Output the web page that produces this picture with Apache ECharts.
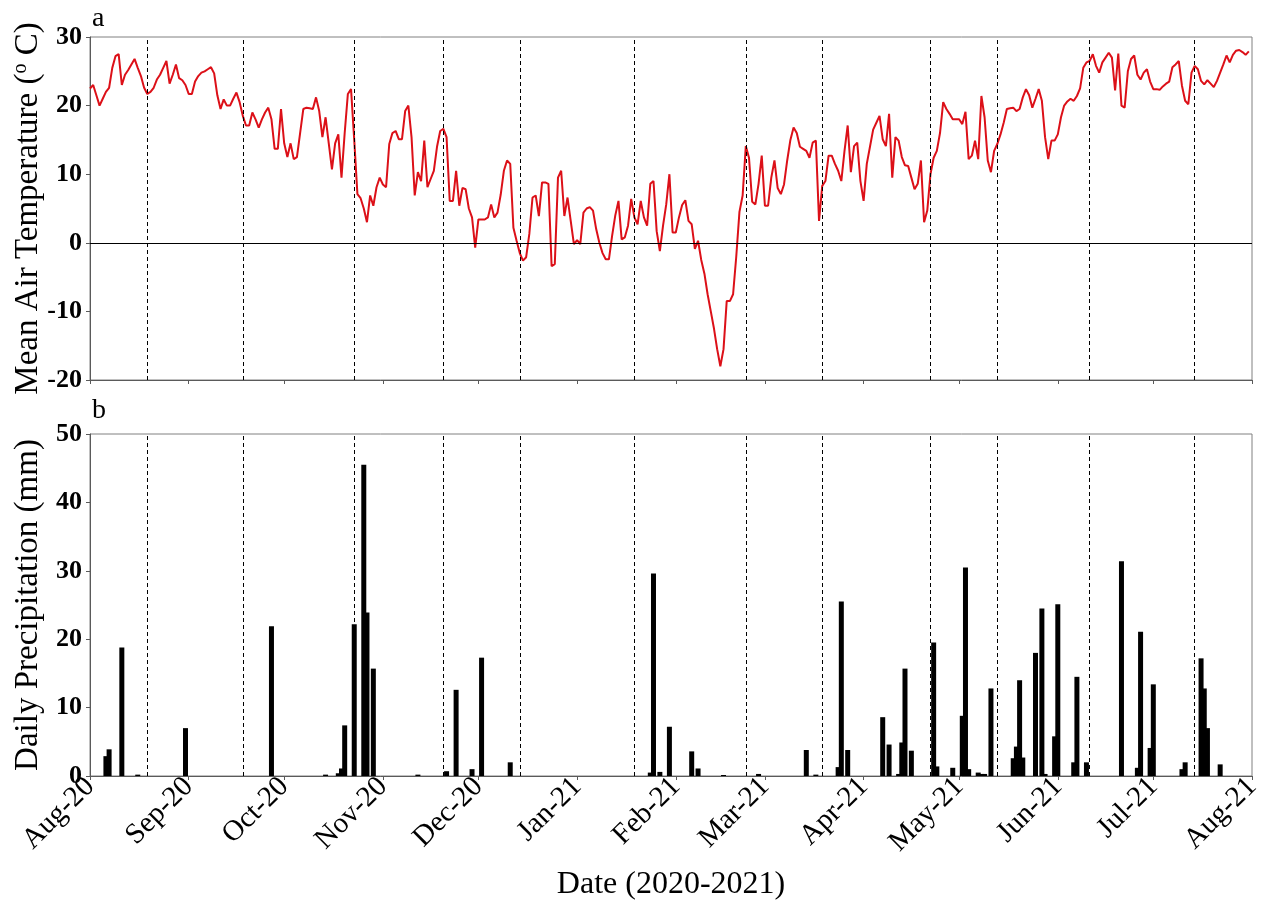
<!DOCTYPE html>
<html><head><meta charset="utf-8">
<script src="https://cdn.jsdelivr.net/npm/echarts@6/dist/echarts.min.js"></script>
<style>html,body{margin:0;padding:0;background:#fff}#c{width:1263px;height:903px}</style>
</head><body><div id="c"></div>
<script>
// ---- data ----
const firstDay = '2020-08-01';
const lastDay = '2021-08-01';
const monthNames = ['Jan','Feb','Mar','Apr','May','Jun','Jul','Aug','Sep','Oct','Nov','Dec'];

// daily mean air temperature (deg C), 1 Aug 2020 .. 31 Jul 2021
const temperature = [
22.5,23.0,21.5,20.0,21.0,22.0,22.6,25.5,27.2,27.5,
23.0,24.5,25.2,26.0,26.8,25.5,24.3,22.6,21.7,22.0,
22.6,23.8,24.5,25.5,26.5,23.2,24.5,26.0,24.0,23.7,
23.0,21.7,21.7,23.5,24.3,24.8,25.0,25.3,25.6,24.7,
21.5,19.5,20.9,20.0,20.0,21.0,21.9,20.5,18.5,17.1,
17.1,19.0,18.0,16.8,18.0,19.0,19.7,18.0,13.7,13.7,
19.5,14.5,12.5,14.5,12.2,12.5,16.0,19.5,19.7,19.6,
19.5,21.2,19.2,15.4,18.3,14.5,10.7,14.5,15.8,9.5,
16.0,21.7,22.4,15.0,7.1,6.5,5.0,3.0,6.9,5.4,
8.1,9.5,8.5,8.1,14.4,16.0,16.3,15.1,15.1,19.2,
20.0,15.4,6.9,10.3,9.0,14.9,8.1,9.3,10.5,14.0,
16.3,16.6,15.4,6.1,6.1,10.5,5.4,8.0,7.8,5.0,
3.7,-0.7,3.4,3.4,3.4,3.7,5.6,3.7,4.4,7.0,
10.5,12.0,11.5,2.2,0.3,-1.5,-2.6,-2.1,1.3,6.6,
6.9,3.9,8.8,8.8,8.6,-3.4,-3.1,9.5,10.5,3.9,
6.6,3.2,-0.2,0.4,-0.2,4.4,5.0,5.2,4.7,2.0,
0.0,-1.5,-2.4,-2.4,1.0,4.0,6.1,0.5,0.8,2.5,
6.4,3.7,2.7,6.1,3.7,2.5,8.6,9.0,1.7,-1.2,
2.5,5.6,10.0,1.5,1.5,3.7,5.5,6.2,3.2,2.7,
-0.9,0.3,-2.5,-4.5,-7.5,-10.0,-12.5,-15.5,-18.0,-15.5,
-8.5,-8.5,-7.5,-2.0,4.5,6.9,14.1,12.4,6.0,5.6,
8.6,12.7,5.4,5.4,9.5,12.0,8.0,7.1,8.5,12.0,
15.0,16.8,16.0,14.0,13.7,13.4,12.4,14.6,14.9,3.2,
8.3,9.0,12.7,12.7,11.5,10.5,9.0,13.4,17.1,10.3,
14.1,14.6,9.0,6.1,11.5,14.0,16.5,17.5,18.5,15.1,
14.1,18.8,9.5,15.4,14.9,12.5,11.3,11.2,9.5,7.8,
8.6,12.0,3.0,4.7,10.0,12.4,13.4,16.0,20.5,19.5,
18.8,18.0,18.0,18.0,17.3,19.1,12.2,12.7,14.9,12.2,
21.4,18.3,12.0,10.3,13.4,14.4,15.8,17.5,19.5,19.6,
19.7,19.2,19.5,21.2,22.4,21.5,19.7,21.0,22.4,20.7,
15.4,12.2,14.9,14.9,15.8,18.3,20.0,20.6,21.0,20.7,
21.4,22.5,25.5,26.3,26.5,27.5,25.8,24.8,26.3,27.0,
27.7,27.0,22.2,27.6,20.0,19.7,25.0,26.8,27.3,24.5,
23.8,24.8,25.3,23.5,22.4,22.4,22.3,22.8,23.2,23.5,
25.6,26.0,26.5,22.9,20.7,20.2,24.8,25.8,25.3,23.6,
23.1,23.7,23.2,22.7,23.6,24.8,26.0,27.3,26.3,27.4,
28.0,28.1,27.8,27.4,27.9
];

// days with precipitation (mm)
const precipDates = [
'2020-08-06','2020-08-07','2020-08-11','2020-08-16','2020-08-31','2020-09-27',
'2020-10-14','2020-10-18','2020-10-19','2020-10-20','2020-10-23','2020-10-26','2020-10-27','2020-10-29',
'2020-11-12','2020-11-21','2020-11-24','2020-11-29','2020-12-02','2020-12-11',
'2021-01-24','2021-01-25','2021-01-27','2021-01-30','2021-02-06','2021-02-08','2021-02-16','2021-02-27',
'2021-03-14','2021-03-17','2021-03-24','2021-03-25','2021-03-27',
'2021-04-07','2021-04-09','2021-04-12','2021-04-13','2021-04-14','2021-04-16','2021-04-23','2021-04-24','2021-04-29',
'2021-05-02','2021-05-03','2021-05-04','2021-05-07','2021-05-08','2021-05-09','2021-05-11',
'2021-05-18','2021-05-19','2021-05-20','2021-05-21','2021-05-25','2021-05-27','2021-05-28','2021-05-31',
'2021-06-01','2021-06-06','2021-06-07','2021-06-10','2021-06-21','2021-06-26','2021-06-27','2021-06-30',
'2021-07-01','2021-07-10','2021-07-11','2021-07-16','2021-07-17','2021-07-18','2021-07-22'
];
const precipValues = [
2.9,3.9,18.8,0.2,7.0,21.9,
0.2,0.4,1.1,7.4,22.2,45.5,23.9,15.7,
0.2,0.7,12.6,1.0,17.3,2.0,
0.5,29.6,0.6,7.2,3.6,1.1,0.15,0.3,
3.8,0.2,1.3,25.5,3.8,
8.6,4.6,0.3,4.9,15.7,3.7,19.5,1.4,1.2,
8.8,30.5,1.0,0.5,0.3,0.3,12.8,
2.6,4.3,14.0,2.7,18.0,24.5,0.3,5.8,
25.1,2.0,14.5,2.0,31.4,1.2,21.1,4.1,
13.4,1.0,2.0,17.2,12.8,7.0,1.7
];

// dashed reference dates
const markerDates = ['2020-08-19','2020-09-18','2020-10-23','2020-11-20','2020-12-14','2021-01-19',
'2021-02-23','2021-03-19','2021-04-22','2021-05-13','2021-06-11','2021-07-14'];

const tempAxis = {min: -20, max: 30, interval: 10};
const precipAxis = {min: 0, max: 50, interval: 10};

// ---- build daily categories ----
const categories = [];
{
  const p0 = firstDay.split('-').map(Number), p1 = lastDay.split('-').map(Number);
  let t = Date.UTC(p0[0], p0[1]-1, p0[2]);
  const tEnd = Date.UTC(p1[0], p1[1]-1, p1[2]);
  while (t <= tEnd) { categories.push(new Date(t).toISOString().slice(0,10)); t += 86400000; }
}
const isMonthStart = (idx, val) => typeof val === 'string' ? val.slice(8,10) === '01' : categories[idx].slice(8,10) === '01';
const fmtMonth = v => monthNames[+v.slice(5,7)-1] + '-' + v.slice(2,4);

const serif = 'Liberation Serif, Times New Roman, serif';
const axisCol = '#5a5a5a';
const dashLines = markerDates.map(d => ({xAxis: d}));

const xBase = (gi, showLabels) => ({
  type: 'category', gridIndex: gi, data: categories, boundaryGap: false,
  axisLine: {show: true, onZero: false, lineStyle: {color: axisCol, width: 1}},
  axisTick: {show: true, inside: false, length: 4, interval: isMonthStart, lineStyle: {color: axisCol}},
  axisLabel: {show: showLabels, interval: isMonthStart, rotate: 45, margin: 6, formatter: fmtMonth,
    fontFamily: serif, fontSize: 29, color: '#000'},
  splitLine: {show: false}
});
const yBase = (gi, r) => ({
  type: 'value', gridIndex: gi, min: r.min, max: r.max, interval: r.interval,
  axisLine: {show: true, lineStyle: {color: axisCol, width: 1}},
  axisTick: {show: true, inside: false, length: 4, lineStyle: {color: axisCol}},
  axisLabel: {fontFamily: serif, fontWeight: 'bold', fontSize: 26, color: '#000', margin: 8},
  splitLine: {show: false},
  nameLocation: 'middle', nameRotate: 90, nameMoveOverlap: false,
  nameTextStyle: {fontFamily: serif, fontSize: 33, color: '#000'}
});

const x0 = xBase(0, false);
const x1 = xBase(1, true);
Object.assign(x1, {name: 'Date (2020-2021)', nameLocation: 'middle', nameGap: 93, nameMoveOverlap: false,
  nameTextStyle: {fontFamily: serif, fontSize: 32, color: '#000'}});

const y0 = yBase(0, tempAxis);
Object.assign(y0, {name: '{n|Mean Air Temperature (}{s|o}{n| C)}', nameGap: 45});
y0.nameTextStyle.rich = {
  n: {fontFamily: serif, fontSize: 33, color: '#000'},
  s: {fontFamily: serif, fontSize: 20, color: '#000', verticalAlign: 'top', padding: [0,0,14,0]}
};
const y1 = yBase(1, precipAxis);
Object.assign(y1, {name: 'Daily Precipitation (mm)', nameGap: 45});

const chart = echarts.init(document.getElementById('c'), null, {renderer: 'canvas'});
chart.setOption({
  animation: false,
  backgroundColor: '#fff',
  grid: [
    {left: 90, right: 11, top: 37, height: 343, show: true, borderColor: '#808080', borderWidth: 1, outerBoundsMode: 'none', containLabel: false},
    {left: 90, right: 11, top: 434, height: 342, show: true, borderColor: '#808080', borderWidth: 1, outerBoundsMode: 'none', containLabel: false}
  ],
  xAxis: [x0, x1],
  yAxis: [y0, y1],
  graphic: [
    {type: 'text', left: 92, top: 5, style: {text: 'a', font: '28px ' + serif, fill: '#000'}},
    {type: 'text', left: 92, top: 397, style: {text: 'b', font: '28px ' + serif, fill: '#000'}}
  ],
  series: [
    {
      type: 'line', xAxisIndex: 0, yAxisIndex: 0, data: temperature,
      symbol: 'none', showSymbol: false, smooth: false,
      lineStyle: {color: '#dc1018', width: 2},
      z: 3,
      markLine: {
        silent: true, symbol: ['none','none'], label: {show: false}, animation: false,
        data: [{yAxis: 0, lineStyle: {type: 'solid', color: '#000', width: 1.2}}]
          .concat(dashLines.map(d => Object.assign({}, d, {lineStyle: {type: [4,3], color: '#000', width: 1}})))
      }
    },
    {
      type: 'bar', xAxisIndex: 1, yAxisIndex: 1,
      data: precipDates.map((d, i) => [d, precipValues[i]]),
      barWidth: 5, barGap: '-100%', itemStyle: {color: '#000'},
      markLine: {
        silent: true, symbol: ['none','none'], label: {show: false}, animation: false,
        data: dashLines.map(d => Object.assign({}, d, {lineStyle: {type: [4,3], color: '#000', width: 1}}))
      }
    }
  ]
});
</script>
</body></html>
